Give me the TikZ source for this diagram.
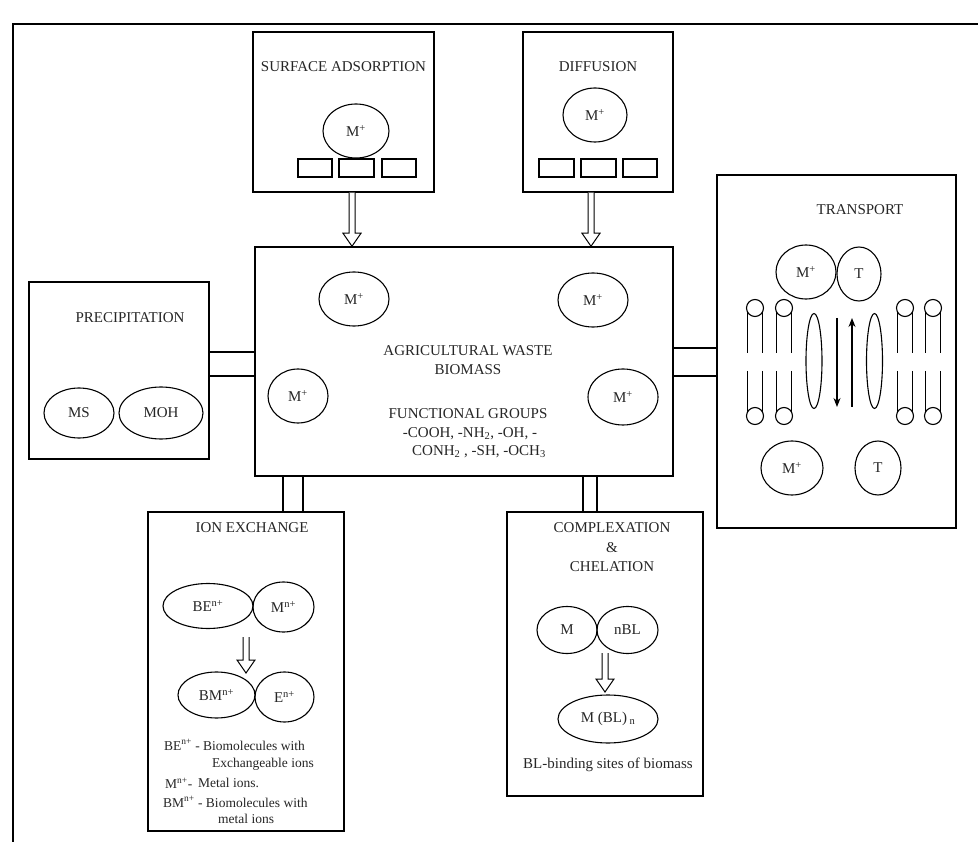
\documentclass[tikz,border=0pt]{standalone}
\usepackage{fontspec}
\setmainfont{Liberation Serif}
\usetikzlibrary{arrows.meta,calc,shapes.geometric}
\tikzset{
  box/.style={draw, rectangle, line width=1.5pt, inner sep=0pt},
  ell/.style={draw, ellipse, line width=1.1pt, inner sep=0pt},
  txt/.style={font=\fontsize{15}{18}\selectfont, inner sep=0pt, text=black!85},
  legend/.style={font=\fontsize{13.5}{16}\selectfont, inner sep=0pt, text=black!85, anchor=west},
  ln/.style={line width=1.5pt},
  thin line/.style={line width=1.1pt},
  hollow/.style={draw, line width=1pt, fill=white},
  tiprow/.style={draw, rectangle, line width=1.2pt, inner sep=0pt, minimum height=18pt}
}
\newcommand{\hollowdown}[2]{%
  \draw[hollow] let \p1=(#1), \p2=(#2) in
    (\x1-3pt,\y1) -- (\x1-3pt,\y2+13pt) -- (\x1-9pt,\y2+13pt) -- (\x1,\y2)
    -- (\x1+9pt,\y2+13pt) -- (\x1+3pt,\y2+13pt) -- (\x1+3pt,\y1);}
\begin{document}
\begin{tikzpicture}[x=1pt,y=-1pt]
\fill[white] (0,0) rectangle (978,842);
\useasboundingbox (0,0) rectangle (978,842);
% outer frame
\coordinate (f1) at (13,842);
\coordinate (f2) at (13,24);
\coordinate (f3) at (978,24);
\draw[ln] (f1) -- (f2) -- (f3);

% boxes
\node[box, minimum width=181pt, minimum height=160pt] (sa) at (343.5,112) {};
\node[box, minimum width=150pt, minimum height=160pt] (dif) at (598,112) {};
\node[box, minimum width=418pt, minimum height=229pt] (main) at (464,361.5) {};
\node[box, minimum width=180pt, minimum height=177pt] (prec) at (119,370.5) {};
\node[box, minimum width=239pt, minimum height=353pt] (trans) at (836.5,351.5) {};
\node[box, minimum width=196pt, minimum height=319pt] (ion) at (246,671.5) {};
\node[box, minimum width=196pt, minimum height=284pt] (comp) at (605,654) {};

% surface adsorption
\node[txt] (saT) at (343.5,67) {SURFACE ADSORPTION};
\node[ell, minimum width=66pt, minimum height=54pt] (saM) at (356,131) {};
\node[txt] at (saM) {M\textsuperscript{+}};
\node[tiprow, minimum width=34pt] (sar1) at (315,168) {};
\node[tiprow, minimum width=35pt] (sar2) at (356.5,168) {};
\node[tiprow, minimum width=34pt] (sar3) at (399,168) {};

% diffusion
\node[txt] (difT) at (598,67) {DIFFUSION};
\node[ell, minimum width=64pt, minimum height=54pt] (difM) at (595,115) {};
\node[txt] at (difM) {M\textsuperscript{+}};
\node[tiprow, minimum width=35pt] (dr1) at (556.5,168) {};
\node[tiprow, minimum width=35pt] (dr2) at (598.5,168) {};
\node[tiprow, minimum width=34pt] (dr3) at (640,168) {};

% hollow arrows into main
\coordinate (ax1) at (352,0);
\coordinate (ax2) at (591,0);
\hollowdown{sa.south -| ax1}{main.north -| ax1}
\hollowdown{dif.south -| ax2}{main.north -| ax2}

% main box content
\node[ell, minimum width=70pt, minimum height=54pt] (m1) at (354,299) {};
\node[txt] at (m1) {M\textsuperscript{+}};
\node[ell, minimum width=70pt, minimum height=54pt] (m2) at (593,300) {};
\node[txt] at (m2) {M\textsuperscript{+}};
\node[ell, minimum width=60pt, minimum height=54pt] (m3) at (298,396) {};
\node[txt] at (m3) {M\textsuperscript{+}};
\node[ell, minimum width=70pt, minimum height=56pt] (m4) at (623,397) {};
\node[txt] at (m4) {M\textsuperscript{+}};
\node[txt] (mt1) at (468,351) {AGRICULTURAL WASTE};
\node[txt] (mt2) at (468,370) {BIOMASS};
\node[txt] (mt3) at (468,414) {FUNCTIONAL GROUPS};
\node[txt] (mt4) at (470,434) {-COOH, -NH\textsubscript{2}, -OH, -};
\node[txt] (mt5) at (479,452) {CONH\textsubscript{2} , -SH, -OCH\textsubscript{3}};

% precipitation
\node[txt] (pT) at (130,318) {PRECIPITATION};
\node[ell, minimum width=70pt, minimum height=50pt] (ms) at (79,413) {};
\node[txt] at (ms) {MS};
\node[ell, minimum width=84pt, minimum height=52pt] (moh) at (161,413) {};
\node[txt] at (moh) {MOH};
\coordinate (py1) at (0,352);
\coordinate (py2) at (0,376);
\draw[ln] (prec.east |- py1) -- (main.west |- py1);
\draw[ln] (prec.east |- py2) -- (main.west |- py2);

% transport links
\coordinate (ty1) at (0,348);
\coordinate (ty2) at (0,376);
\draw[ln] (main.east |- ty1) -- (trans.west |- ty1);
\draw[ln] (main.east |- ty2) -- (trans.west |- ty2);

% transport content
\node[txt] (tT) at (860,210) {TRANSPORT};
\node[ell, minimum width=60pt, minimum height=54pt] (tm1) at (806,272) {};
\node[txt] at (tm1) {M\textsuperscript{+}};
\node[ell, minimum width=44pt, minimum height=54pt] (tt1) at (859,274) {};
\node[txt] at (tt1) {T};
\node[ell, minimum width=62pt, minimum height=54pt] (tm2) at (792,468) {};
\node[txt] at (tm2) {M\textsuperscript{+}};
\node[ell, minimum width=46pt, minimum height=54pt] (tt2) at (878,468) {};
\node[txt] at (tt2) {T};
\foreach \lx in {755,784,905,933}{
  \draw[thin line] (\lx,308) circle[radius=8.5pt];
  \draw[thin line] (\lx,416) circle[radius=8.5pt];
  \draw[thin line] (\lx-7.5,312) -- (\lx-7.5,353);
  \draw[thin line] (\lx+7.5,312) -- (\lx+7.5,353);
  \draw[thin line] (\lx-7.5,371) -- (\lx-7.5,412);
  \draw[thin line] (\lx+7.5,371) -- (\lx+7.5,412);
}
\node[ell, minimum width=16pt, minimum height=95pt] (ch1) at (814,361) {};
\node[ell, minimum width=16pt, minimum height=95pt] (ch2) at (874.5,361) {};
\coordinate (da1) at (837,318);
\coordinate (da2) at (837,407);
\coordinate (ua1) at (852,407);
\coordinate (ua2) at (852,318);
\draw[thin line, -{Stealth[length=9pt,width=7pt]}] (da1) -- (da2);
\draw[thin line, -{Stealth[length=9pt,width=7pt]}] (ua1) -- (ua2);

% ion exchange links
\coordinate (ix1) at (283,0);
\coordinate (ix2) at (303,0);
\draw[ln] (main.south -| ix1) -- (ion.north -| ix1);
\draw[ln] (main.south -| ix2) -- (ion.north -| ix2);

% ion exchange content
\node[txt] (iT) at (252,528) {ION EXCHANGE};
\node[ell, minimum width=90pt, minimum height=45pt] (be) at (208,606) {};
\node[txt] at (be) {BE\textsuperscript{n+}};
\node[ell, minimum width=61pt, minimum height=50pt] (mn) at (283.5,607) {};
\node[txt] at (mn) {M\textsuperscript{n+}};
\node[ell, minimum width=77pt, minimum height=46pt] (bm) at (216.5,695) {};
\node[txt] at (bm) {BM\textsuperscript{n+}};
\node[ell, minimum width=59pt, minimum height=50pt] (en) at (284.5,697) {};
\node[txt] at (en) {E\textsuperscript{n+}};
\coordinate (ia1) at (246,637);
\coordinate (ia2) at (246,673);
\hollowdown{ia1}{ia2}
\node[legend] (l1) at (164,745) {BE\textsuperscript{n+} - Biomolecules with};
\node[legend] (l2) at (212,764) {Exchangeable ions};
\node[legend] (l3a) at (165,783) {M\textsuperscript{n+}-};
\node[legend] (l3b) at (198,783) {Metal ions.};
\node[legend] (l4) at (163,802) {BM\textsuperscript{n+} - Biomolecules with};
\node[legend] (l5) at (218,819) {metal ions};

% complexation links
\coordinate (cx1) at (583,0);
\coordinate (cx2) at (597,0);
\draw[ln] (main.south -| cx1) -- (comp.north -| cx1);
\draw[ln] (main.south -| cx2) -- (comp.north -| cx2);

% complexation content
\node[txt] (cT1) at (612,528) {COMPLEXATION};
\node[txt] (cT2) at (612,548) {\&};
\node[txt] (cT3) at (612,567) {CHELATION};
\node[ell, minimum width=60pt, minimum height=47pt] (cm) at (567,630) {};
\node[txt] at (cm) {M};
\node[ell, minimum width=61pt, minimum height=47pt] (nbl) at (627.5,630) {};
\node[txt] at (nbl) {nBL};
\node[ell, minimum width=100pt, minimum height=48pt] (mbl) at (608,719) {};
\node[txt] at (mbl) {M (BL)\,\textsubscript{n}};
\coordinate (ca1) at (605,653);
\coordinate (ca2) at (605,692);
\hollowdown{ca1}{ca2}
\node[txt] (cL) at (608,765) {BL-binding sites of biomass};
\end{tikzpicture}
\end{document}
